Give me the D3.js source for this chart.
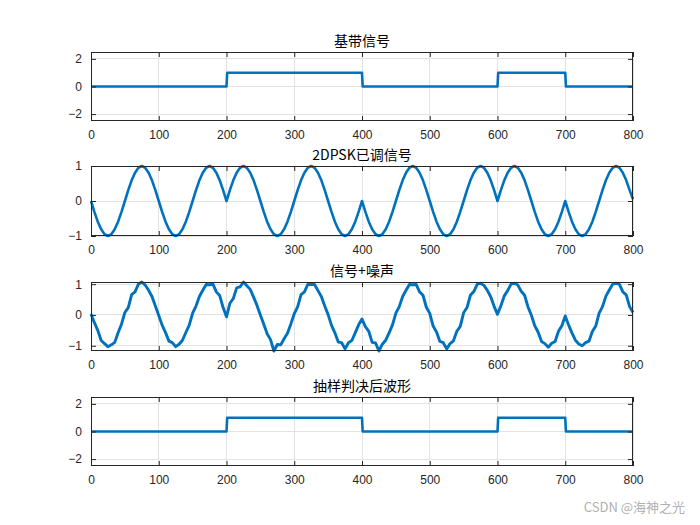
<!DOCTYPE html>
<html><head><meta charset="utf-8">
<script src="https://cdn.jsdelivr.net/npm/d3@7"></script>
<style>body{margin:0;background:#fff}svg{display:block}</style>
</head><body><svg id="c" width="700" height="525"></svg>
<script>
// ---- data ----
const titles = ["基带信号", "2DPSK已调信号", "信号+噪声", "抽样判决后波形"];
const xTicks = [0, 100, 200, 300, 400, 500, 600, 700, 800];
const bits = [0, 0, 1, 1, 0, 0, 1, 0];          // baseband symbols (100 samples each)
const decided = [0, 0, 1, 1, 0, 0, 1, 0];       // decision output symbols
const sampleStep = 5;
// modulated signal, t = 0..800 step 5
const dpsk = [
 0,-.31,-.59,-.81,-.95,-1,-.95,-.81,-.59,-.31,0,.31,.59,.81,.95,1,.95,.81,.59,.31,
 0,-.31,-.59,-.81,-.95,-1,-.95,-.81,-.59,-.31,0,.31,.59,.81,.95,1,.95,.81,.59,.31,
 0,.31,.59,.81,.95,1,.95,.81,.59,.31,0,-.31,-.59,-.81,-.95,-1,-.95,-.81,-.59,-.31,
 0,.31,.59,.81,.95,1,.95,.81,.59,.31,0,-.31,-.59,-.81,-.95,-1,-.95,-.81,-.59,-.31,
 0,-.31,-.59,-.81,-.95,-1,-.95,-.81,-.59,-.31,0,.31,.59,.81,.95,1,.95,.81,.59,.31,
 0,-.31,-.59,-.81,-.95,-1,-.95,-.81,-.59,-.31,0,.31,.59,.81,.95,1,.95,.81,.59,.31,
 0,.31,.59,.81,.95,1,.95,.81,.59,.31,0,-.31,-.59,-.81,-.95,-1,-.95,-.81,-.59,-.31,
 0,-.31,-.59,-.81,-.95,-1,-.95,-.81,-.59,-.31,0,.31,.59,.81,.95,1,.95,.81,.59,.31,
 0.05];
// signal + noise, t = 0..800 step 5
const noisy = [
 0.03,-0.25,-0.50,-0.83,-0.93,-1.03,-0.97,-0.89,-0.58,-0.30,0.08,0.24,0.66,0.75,1.00,1.07,0.97,0.80,0.60,0.29,
 -0.02,-0.33,-0.57,-0.85,-0.90,-1.03,-0.95,-0.82,-0.57,-0.33,0.06,0.29,0.60,0.80,0.99,0.98,1.00,0.75,0.63,0.24,
 -0.06,0.38,0.53,0.88,0.91,1.07,0.95,0.83,0.58,0.31,0.00,-0.30,-0.61,-0.80,-1.17,-0.96,-0.97,-0.77,-0.59,-0.29,
 0.04,0.26,0.66,0.75,0.99,0.99,0.99,0.79,0.60,0.29,0.01,-0.34,-0.58,-0.88,-0.90,-1.10,-0.90,-0.83,-0.58,-0.32,
 -0.13,-0.38,-0.53,-0.89,-0.91,-1.17,-0.95,-0.82,-0.58,-0.32,0.06,0.27,0.60,0.80,0.99,0.98,0.99,0.75,0.64,0.25,
 0.05,-0.36,-0.55,-0.86,-0.90,-1.10,-0.93,-0.84,-0.53,-0.37,0.07,0.24,0.64,0.76,0.99,1.03,0.96,0.80,0.59,0.28,
 0.02,0.30,0.62,0.79,1.00,1.03,0.97,0.77,0.64,0.26,-0.01,-0.35,-0.56,-0.86,-0.93,-1.05,-0.92,-0.86,-0.53,-0.35,
 -0.03,-0.33,-0.59,-0.82,-0.94,-1.00,-0.90,-0.85,-0.54,-0.36,0.06,0.27,0.61,0.81,1.00,1.03,0.99,0.75,0.65,0.27,
 0.08];
const yTicksBig = [-2, 0, 2];
const yTicksUnit = [-1, 0, 1];

// ---- build point lists ----
function stepPoints(sym) {
  const pts = [];
  sym.forEach((b, i) => { pts.push([i * 100 + 1, b]); pts.push([(i + 1) * 100, b]); });
  pts.unshift([0, sym[0]]);
  return pts;
}
const sampled = arr => arr.map((v, i) => [i * sampleStep, v]);

const panels = [
  { title: titles[0], data: stepPoints(bits), y: [-2.5, 2.5], ticks: yTicksBig, top: 52, h: 69, w: 2.6 },
  { title: titles[1], data: sampled(dpsk), y: [-1, 1], ticks: yTicksUnit, top: 166, h: 70, w: 2.6 },
  { title: titles[2], data: sampled(noisy), y: d3.extent(noisy), ticks: yTicksUnit, top: 282, h: 69, w: 2.9 },
  { title: titles[3], data: stepPoints(decided), y: [-2.5, 2.5], ticks: yTicksBig, top: 397, h: 69, w: 2.6 }
];

const svg = d3.select("#c");
const L = 91, R = 633;
const axisCol = "#262626", gridCol = "#e3e3e3", lineCol = "#0072BD";
const font = "'Liberation Sans', Arial, Helvetica, sans-serif";
const cjk = "'Noto Sans CJK SC', 'Liberation Sans', sans-serif";

panels.forEach(p => {
  const x = d3.scaleLinear().domain([0, 800]).range([L, R]);
  const y = d3.scaleLinear().domain(p.y).range([p.top + p.h, p.top]);
  const g = svg.append("g");
  // grid
  g.selectAll(".gx").data(xTicks).join("line")
    .attr("x1", d => x(d)).attr("x2", d => x(d)).attr("y1", p.top).attr("y2", p.top + p.h)
    .attr("stroke", gridCol).attr("stroke-width", 1).attr("shape-rendering", "crispEdges");
  g.selectAll(".gy").data(p.ticks).join("line")
    .attr("x1", L).attr("x2", R).attr("y1", d => y(d)).attr("y2", d => y(d))
    .attr("stroke", gridCol).attr("stroke-width", 1).attr("shape-rendering", "crispEdges");
  // data line
  g.append("path").datum(p.data)
    .attr("d", d3.line().x(d => x(d[0])).y(d => y(d[1])))
    .attr("fill", "none").attr("stroke", lineCol).attr("stroke-width", p.w)
    .attr("stroke-linejoin", "round");
  // axes (ticks inside, mirrored)
  const tk = 5;
  const styleAxis = sel => {
    sel.attr("font-family", null);
    sel.select(".domain").remove();
    sel.selectAll("line").attr("stroke", axisCol);
    sel.selectAll("text").attr("fill", axisCol).style("font-family", font).style("font-size", "12px");
  };
  svg.append("g").attr("transform", `translate(0,${p.top + p.h})`)
    .call(d3.axisBottom(x).tickValues(xTicks).tickSize(-tk).tickPadding(9).tickFormat(d3.format("d")))
    .call(styleAxis);
  svg.append("g").attr("transform", `translate(0,${p.top})`)
    .call(d3.axisTop(x).tickValues(xTicks).tickSize(-tk).tickFormat(""))
    .call(styleAxis);
  svg.append("g").attr("transform", `translate(${L},0)`)
    .call(d3.axisLeft(y).tickValues(p.ticks).tickSize(-tk).tickPadding(9).tickFormat(d3.format("d")))
    .call(styleAxis);
  svg.append("g").attr("transform", `translate(${R},0)`)
    .call(d3.axisRight(y).tickValues(p.ticks).tickSize(-tk).tickFormat(""))
    .call(styleAxis);
  // box
  svg.append("rect").attr("x", L + 0.5).attr("y", p.top + 0.5).attr("width", R - L - 1).attr("height", p.h - 1)
    .attr("fill", "none").attr("stroke", axisCol).attr("stroke-width", 1);
  // title
  svg.append("text").attr("x", (L + R) / 2).attr("y", p.top - 6)
    .attr("text-anchor", "middle").attr("fill", "#000")
    .style("font-family", cjk).style("font-size", "14px").text(p.title);
});

svg.append("text").attr("x", 685).attr("y", 512).attr("text-anchor", "end")
  .attr("fill", "#b0b0b0").style("font-family", cjk).style("font-size", "13px").text("CSDN @海神之光");
</script></body></html>
